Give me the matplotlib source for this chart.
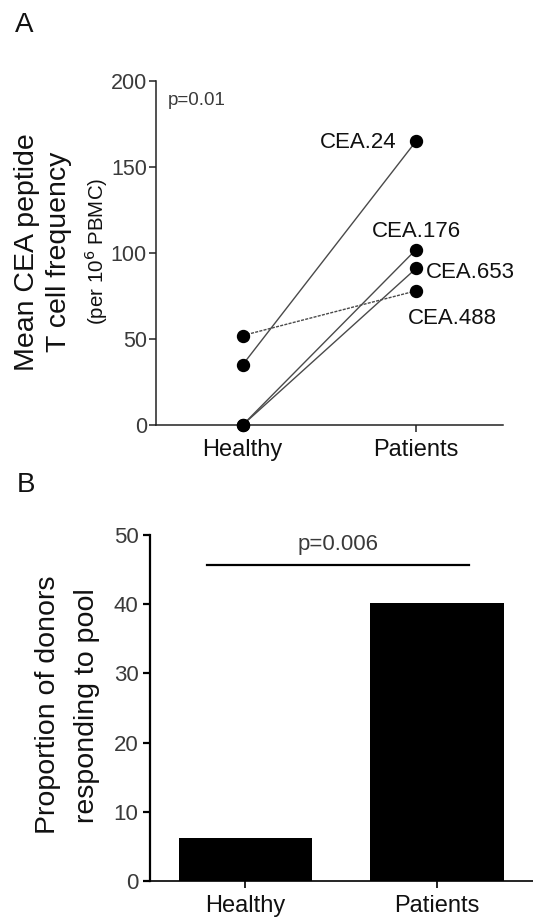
import matplotlib
matplotlib.use("Agg")
import matplotlib.pyplot as plt

plt.rcParams['font.family'] = ['Liberation Sans', 'DejaVu Sans']

# ---- Data ----
groups = ["Healthy", "Patients"]
peptides = ["CEA.24", "CEA.176", "CEA.653", "CEA.488"]
healthy_freq = [35, 0, 0, 52]
patient_freq = [165, 102, 91, 78]
peptide_styles = ["solid", "solid", "solid", "dashed"]
p_value_a = "p=0.01"

proportion = [6.2, 40.2]
p_value_b = "p=0.006"
sig_y = 45.6

W, H = 533, 919
fig = plt.figure(figsize=(W / 100, H / 100), dpi=100)

def fx(px):
    return px / W

def fy(py):
    return 1 - py / H

tick_col = '#3a3a3a'
txt_col = '#111111'

# ---- Panel A ----
axA = fig.add_axes([fx(156), fy(425), fx(502.7 - 156), (425 - 81) / H])
xs = [0, 1]
for name, h, p, ls in zip(peptides, healthy_freq, patient_freq, peptide_styles):
    style = (0, (2.2, 0.9)) if ls == "dashed" else '-'
    axA.plot(xs, [h, p], color='#4a4a4a', lw=1.0, linestyle=style, zorder=2,
             clip_on=False)
    axA.plot(xs, [h, p], linestyle='none', marker='o', ms=8.6, color='black',
             zorder=3, clip_on=False)

label_pos = {"CEA.24": (0.885, 164, 'right'),
             "CEA.176": (1.0, 112.5, 'center'),
             "CEA.653": (1.056, 88.8, 'left'),
             "CEA.488": (0.953, 62, 'left')}
for name in peptides:
    x, y, ha = label_pos[name]
    axA.text(x, y, name, ha=ha, va='center', fontsize=16, color=txt_col)

axA.text(-0.431, 186.3, p_value_a, ha='left', va='baseline', fontsize=13.5,
         color=tick_col)

axA.set_xlim(-0.5, 1.5)
axA.set_ylim(0, 200)
axA.set_xticks(xs)
axA.set_xticklabels(groups)
axA.set_yticks([0, 50, 100, 150, 200])
for s in ['top', 'right']:
    axA.spines[s].set_visible(False)
for s in ['left', 'bottom']:
    axA.spines[s].set_linewidth(1.1)
    axA.spines[s].set_color('#222222')
axA.tick_params(axis='y', labelsize=15.5, colors='#222222', labelcolor=tick_col,
                length=5, width=1.1, pad=1.5)
axA.tick_params(axis='x', labelsize=17, colors='#222222', labelcolor=txt_col,
                length=5, width=1.1, pad=5)

# y label of panel A (three lines)
fig.text(fx(34), fy(251.7), "Mean CEA peptide", rotation=90,
         rotation_mode='anchor', ha='center', va='baseline', fontsize=20.5,
         color=txt_col)
fig.text(fx(65.5), fy(251.5), "T cell frequency", rotation=90,
         rotation_mode='anchor', ha='center', va='baseline', fontsize=20.5,
         color=txt_col)
fig.text(fx(104), fy(251), r"(per 10$^{6}$ PBMC)", rotation=90,
         rotation_mode='anchor', ha='center', va='baseline', fontsize=14.8,
         color=txt_col)

fig.text(fx(15), fy(32), "A", ha='left', va='baseline', fontsize=20,
         color=txt_col)

# ---- Panel B ----
axB = fig.add_axes([fx(149.5), fy(881), fx(533 - 149.5), (881 - 535) / H])
axB.bar(xs, proportion, width=0.695, color='black', zorder=2)
axB.plot([-0.2, 1.165], [sig_y, sig_y], color='black', lw=1.6, clip_on=False)
axB.text(0.483, 47.8, p_value_b, ha='center', va='baseline', fontsize=16,
         color=tick_col)
axB.set_xlim(-0.5, 1.5)
axB.set_ylim(0, 50)
axB.set_xticks(xs)
axB.set_xticklabels(groups)
axB.set_yticks([0, 10, 20, 30, 40, 50])
for s in ['top', 'right']:
    axB.spines[s].set_visible(False)
axB.spines['left'].set_linewidth(1.6)
axB.spines['bottom'].set_linewidth(1.2)
axB.spines['left'].set_color('black')
axB.spines['bottom'].set_color('black')
axB.tick_params(axis='y', labelsize=16, colors='black', labelcolor=tick_col,
                length=5, width=1.6, pad=3)
axB.tick_params(axis='x', labelsize=17, colors='black', labelcolor=txt_col,
                length=5, width=1.2, pad=5)

fig.text(fx(55), fy(705), "Proportion of donors", rotation=90,
         rotation_mode='anchor', ha='center', va='baseline', fontsize=20.5,
         color=txt_col)
fig.text(fx(94), fy(706), "responding to pool", rotation=90,
         rotation_mode='anchor', ha='center', va='baseline', fontsize=20.5,
         color=txt_col)

fig.text(fx(17), fy(492), "B", ha='left', va='baseline', fontsize=20,
         color=txt_col)

fig.savefig("out.png", dpi=100)
